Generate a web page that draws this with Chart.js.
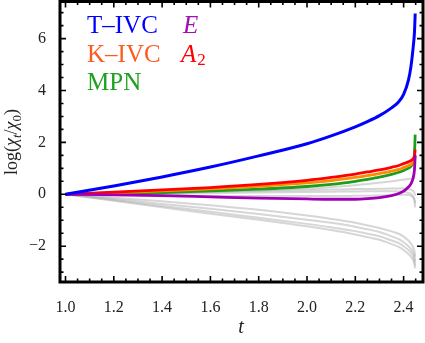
<!DOCTYPE html>
<html>
<head>
<meta charset="utf-8">
<script src="https://cdn.jsdelivr.net/npm/chart.js@4/dist/chart.umd.min.js"></script>
<style>
html, body { margin: 0; padding: 0; background: #fff; }
</style>
</head>
<body>
<canvas id="myChart" width="425" height="343"></canvas>
<script>
// sample times (t) shared by every curve
var tVals = [1.0, 1.2, 1.4, 1.6, 1.8, 2.0, 2.1, 2.2, 2.25, 2.3, 2.35, 2.38, 2.4, 2.42, 2.43, 2.44, 2.445, 2.448];

// coloured curves, log(chi_t/chi_0)
var tivc = [0, 0.32, 0.67, 1.05, 1.48, 1.95, 2.25, 2.6, 2.8, 3.03, 3.33, 3.57, 3.85, 4.4, 4.9, 5.7, 6.25, 6.97];
var kivc = [0, 0.06, 0.13, 0.21, 0.31, 0.44, 0.53, 0.65, 0.72, 0.80, 0.89, 0.96, 1.03, 1.1, 1.15, 1.24, 1.33, 1.5];
var mpn  = [0, 0.03, 0.07, 0.13, 0.2, 0.3, 0.38, 0.5, 0.575, 0.66, 0.77, 0.85, 0.92, 1.01, 1.08, 1.25, 1.55, 2.3];
var eIrr = [0, -0.02, -0.05, -0.1, -0.15, -0.18, -0.19, -0.19, -0.17, -0.13, -0.05, 0.03, 0.12, 0.28, 0.4, 0.65, 0.95, 1.5];
var a2   = [0, 0.08, 0.17, 0.26, 0.38, 0.54, 0.65, 0.78, 0.86, 0.94, 1.04, 1.11, 1.18, 1.25, 1.3, 1.38, 1.48, 1.72];

// grey background curves
var grey1 = [0, -0.13, -0.27, -0.42, -0.6, -0.82, -0.95, -1.1, -1.2, -1.3, -1.43, -1.52, -1.63, -1.78, -1.9, -2.05, -2.2, -2.4];
var grey2 = [0, -0.18, -0.37, -0.56, -0.76, -0.98, -1.1, -1.25, -1.35, -1.45, -1.62, -1.73, -1.85, -2.0, -2.1, -2.25, -2.4, -2.6];
var grey3 = [0, -0.22, -0.45, -0.67, -0.9, -1.14, -1.27, -1.42, -1.52, -1.62, -1.78, -1.88, -2.0, -2.15, -2.25, -2.4, -2.55, -2.75];
var grey4 = [0, -0.25, -0.5, -0.75, -0.98, -1.23, -1.38, -1.55, -1.65, -1.75, -1.92, -2.03, -2.15, -2.3, -2.4, -2.55, -2.7, -2.85];
var grey5 = [0, 0.02, 0.05, 0.1, 0.15, 0.22, 0.28, 0.35, 0.4, 0.45, 0.5, 0.54, 0.57, 0.59, 0.6, 0.61, 0.62, 0.62];
var grey6 = [0, 0.03, 0.06, 0.1, 0.13, 0.16, 0.18, 0.2, 0.205, 0.21, 0.22, 0.22, 0.22, 0.2, 0.18, 0.12, 0.05, -0.05];
var grey7 = [0, 0.01, 0.03, 0.05, 0.07, 0.09, 0.1, 0.11, 0.115, 0.12, 0.12, 0.11, 0.1, 0.06, 0.02, -0.1, -0.25, -0.5];
var grey8 = [0, -0.03, -0.05, -0.06, -0.07, -0.07, -0.07, -0.06, -0.055, -0.05, -0.04, -0.03, -0.02, -0.03, -0.05, -0.12, -0.2, -0.35];

var xTicks = [1.0, 1.2, 1.4, 1.6, 1.8, 2.0, 2.2, 2.4];
var yTicks = [-2, 0, 2, 4, 6];

var serif = '"Liberation Serif", "DejaVu Serif", serif';

function pts(arr) {
    return arr.map(function (v, i) { return { x: tVals[i], y: v }; });
}

function line(arr, color, width) {
    return {
        data: pts(arr),
        borderColor: color,
        borderWidth: width,
        pointRadius: 0,
        cubicInterpolationMode: 'monotone',
        fill: false
    };
}

var greyCol = 'rgba(170,170,170,0.48)';

var framePlugin = {
    id: 'frame',
    afterDraw: function (chart) {
        var ctx = chart.ctx;
        var a = chart.chartArea;
        var xs = chart.scales.x, ys = chart.scales.y;
        ctx.save();
        ctx.strokeStyle = '#000';
        // minor + major ticks, pointing inward on all sides
        ctx.lineWidth = 1.6;
        for (var k = 0; k <= 30; k++) {
            var tv = 1.0 + k * 0.05;
            var px = xs.getPixelForValue(tv);
            if (px > a.right - 2) continue;
            var len = (k % 4 === 0) ? 6 : 3.5;
            ctx.beginPath();
            ctx.moveTo(px, a.bottom); ctx.lineTo(px, a.bottom - len);
            ctx.moveTo(px, a.top); ctx.lineTo(px, a.top + len);
            ctx.stroke();
        }
        for (var j = -6; j <= 14; j++) {
            var yv = j * 0.5;
            var py = ys.getPixelForValue(yv);
            if (py < a.top + 2 || py > a.bottom - 2) continue;
            var l2 = (j % 4 === 0) ? 6 : 3.5;
            ctx.beginPath();
            ctx.moveTo(a.left, py); ctx.lineTo(a.left + l2, py);
            ctx.moveTo(a.right, py); ctx.lineTo(a.right - l2, py);
            ctx.stroke();
        }
        ctx.lineWidth = 3;
        ctx.strokeRect(a.left, a.top, a.right - a.left, a.bottom - a.top);

        // labels inside the plot
        ctx.textBaseline = 'alphabetic';
        ctx.textAlign = 'left';
        ctx.font = '25px ' + serif;
        ctx.fillStyle = '#0000ff';
        ctx.fillText('T\u2013IVC', 87, 33);
        ctx.fillStyle = '#ff5a1e';
        ctx.fillText('K\u2013IVC', 87, 61.5);
        ctx.fillStyle = '#22a022';
        ctx.fillText('MPN', 87, 90);
        ctx.font = 'italic 25px ' + serif;
        ctx.fillStyle = '#a010b0';
        ctx.fillText('E', 183, 33);
        ctx.fillStyle = '#ff0000';
        ctx.fillText('A', 181, 61.5);
        var aw = ctx.measureText('A').width;
        ctx.font = '17px ' + serif;
        ctx.fillText('2', 181 + aw + 1, 65);

        // axis titles
        ctx.fillStyle = '#222';
        ctx.font = 'italic 20px ' + serif;
        ctx.textAlign = 'center';
        ctx.fillText('t', 241, 333);

        ctx.translate(17, 142);
        ctx.rotate(-Math.PI / 2);
        var parts = [
            ['log(', '18px ' + serif, 0],
            ['\u03c7', 'italic 18px ' + serif, 0],
            ['t', 'italic 13px ' + serif, 4],
            ['/', '18px ' + serif, 0],
            ['\u03c7', 'italic 18px ' + serif, 0],
            ['0', '13px ' + serif, 4],
            [')', '18px ' + serif, 0]
        ];
        var total = 0;
        parts.forEach(function (p) { ctx.font = p[1]; total += ctx.measureText(p[0]).width; });
        var cx = -total / 2;
        ctx.textAlign = 'left';
        parts.forEach(function (p) {
            ctx.font = p[1];
            ctx.fillText(p[0], cx, p[2]);
            cx += ctx.measureText(p[0]).width;
        });
        ctx.restore();
    }
};

new Chart(document.getElementById('myChart'), {
    type: 'line',
    data: {
        datasets: [
            line(tivc, '#0000ff', 3),
            line(eIrr, '#a000b4', 2.8),
            line(a2, '#ff0000', 2.8),
            line(kivc, '#ff8c00', 2.8),
            line(mpn, '#1c9e1c', 2.8),
            line(grey1, greyCol, 2),
            line(grey2, greyCol, 2),
            line(grey3, greyCol, 2),
            line(grey4, greyCol, 2),
            line(grey5, greyCol, 2),
            line(grey6, greyCol, 2),
            line(grey7, greyCol, 2),
            line(grey8, greyCol, 2)
        ]
    },
    options: {
        responsive: false,
        animation: false,
        devicePixelRatio: 1,
        layout: { padding: { top: 1.5, right: 2, left: 0, bottom: 0 } },
        plugins: { legend: { display: false }, tooltip: { enabled: false } },
        scales: {
            x: {
                type: 'linear',
                min: 0.9772,
                max: 2.4803,
                grid: { display: false },
                border: { display: false },
                afterBuildTicks: function (s) { s.ticks = xTicks.map(function (v) { return { value: v }; }); },
                afterFit: function (s) { s.height = 61; s.paddingLeft = 0; s.paddingRight = 0; },
                ticks: {
                    autoSkip: false,
                    maxRotation: 0,
                    padding: 8,
                    color: '#222',
                    font: { family: serif, size: 16 },
                    callback: function (v) { return Number(v).toFixed(1); }
                }
            },
            y: {
                min: -3.38,
                max: 7.43,
                grid: { display: false },
                border: { display: false },
                afterBuildTicks: function (s) { s.ticks = yTicks.map(function (v) { return { value: v }; }); },
                afterFit: function (s) { s.width = 60; s.paddingTop = 0; s.paddingBottom = 0; },
                ticks: {
                    padding: 6,
                    color: '#222',
                    font: { family: serif, size: 16 },
                    callback: function (v) { return v < 0 ? '\u2212' + Math.abs(v) : '' + v; }
                }
            }
        }
    },
    plugins: [framePlugin]
});
</script>
</body>
</html>
